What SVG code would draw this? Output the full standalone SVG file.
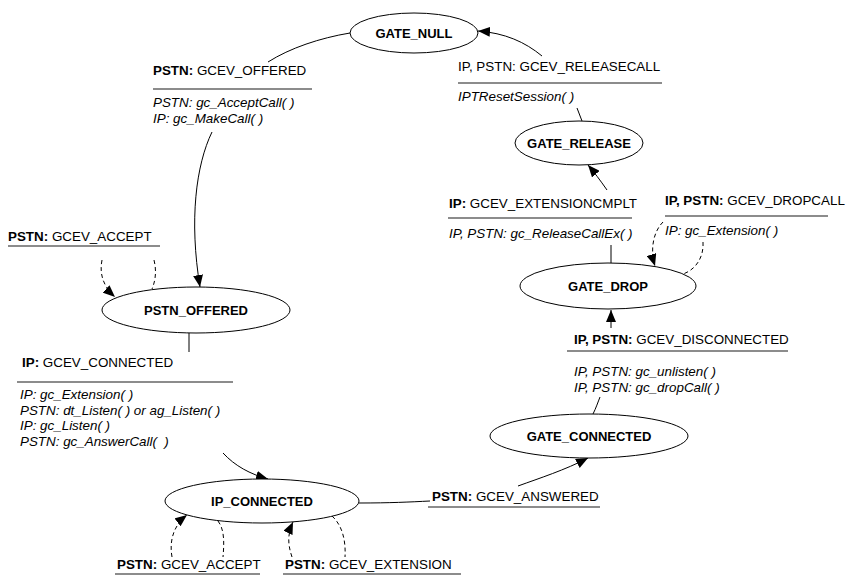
<svg xmlns="http://www.w3.org/2000/svg" width="846" height="576" viewBox="0 0 846 576">
<defs>
<marker id="ah" viewBox="0 0 12 10" refX="12" refY="5" markerWidth="12" markerHeight="10" markerUnits="userSpaceOnUse" orient="auto">
<path d="M0,0 L12,5 L0,10 Z" fill="#000"/>
</marker>
<style>
.node ellipse{fill:#fff;stroke:#000;stroke-width:1}
.node text{font-family:"Liberation Sans",Arial,sans-serif;font-size:13px;font-weight:bold;text-anchor:middle;fill:#000}
.lbl text{font-family:"Liberation Sans",Arial,sans-serif;font-size:13.4px;fill:#000}
.lbl text.i{font-style:italic}
.b{font-weight:bold}
.ul{stroke:#666;stroke-width:1.5}
.c{fill:none;stroke:#000;stroke-width:1}
.d{fill:none;stroke:#000;stroke-width:1;stroke-dasharray:4,3}
.arr{marker-end:url(#ah)}
</style>
</defs>
<rect width="846" height="576" fill="#fff"/>

<g id="connectors">
<path class="c" d="M350,33 C320,38 290,48 268,62"/>
<path class="c arr" d="M212,132 C196,165 189,220 200,287"/>
<path class="d arr" d="M102,260 C99,275 104,287 115,297"/>
<path class="d" d="M154,260 C157,272 155,282 152,289"/>
<path class="c" d="M189,333 L189,352"/>
<path class="c arr" d="M223,453 C235,466 250,474 268,479"/>
<path class="d arr" d="M172,557 C169,540 174,525 187,515"/>
<path class="d" d="M218,521 C225,530 224,545 223,557"/>
<path class="d arr" d="M292,557 C288,545 287,535 293,522"/>
<path class="d" d="M332,516 C342,525 346,540 345,557"/>
<path class="c" d="M359,503 C390,503 410,502 430,501"/>
<path class="c arr" d="M518,486 C540,478 565,470 588,458"/>
<path class="c" d="M593,414 C596,408 598,402 600,397"/>
<path class="c arr" d="M611,328 L611,310"/>
<path class="c" d="M611,263 L611,245"/>
<path class="d arr" d="M663,222 C653,232 650,250 655,266"/>
<path class="d" d="M703,242 C704,258 695,270 683,274"/>
<path class="c arr" d="M607,190 C600,180 594,172 588,165"/>
<path class="c" d="M582,121 L577,108"/>
<path class="c arr" d="M542,56 C525,42 505,33 478,31"/>
</g>

<g id="GATE_NULL" class="node"><ellipse cx="414" cy="33" rx="64" ry="20"/><text x="414" y="38">GATE_NULL</text></g>
<g id="PSTN_OFFERED" class="node"><ellipse cx="196" cy="310" rx="94" ry="23"/><text x="196" y="315">PSTN_OFFERED</text></g>
<g id="IP_CONNECTED" class="node"><ellipse cx="262" cy="501" rx="97" ry="22"/><text x="262" y="506">IP_CONNECTED</text></g>
<g id="GATE_CONNECTED" class="node"><ellipse cx="589" cy="436" rx="99" ry="22"/><text x="589" y="441">GATE_CONNECTED</text></g>
<g id="GATE_DROP" class="node"><ellipse cx="608" cy="286" rx="88" ry="23"/><text x="608" y="291">GATE_DROP</text></g>
<g id="GATE_RELEASE" class="node"><ellipse cx="579" cy="143" rx="64" ry="22"/><text x="579" y="148">GATE_RELEASE</text></g>

<g id="lbl-offered" class="lbl">
<text x="153" y="75"><tspan class="b">PSTN:</tspan> GCEV_OFFERED</text>
<line class="ul" x1="153" y1="89" x2="312" y2="89"/>
<text class="i" x="153" y="107">PSTN: gc_AcceptCall( )</text>
<text class="i" x="153" y="123">IP: gc_MakeCall( )</text>
</g>
<g id="lbl-accept1" class="lbl">
<text x="8" y="241"><tspan class="b">PSTN:</tspan> GCEV_ACCEPT</text>
<line class="ul" x1="8" y1="246" x2="160" y2="246"/>
</g>
<g id="lbl-connected" class="lbl">
<text x="22" y="367"><tspan class="b">IP:</tspan> GCEV_CONNECTED</text>
<line class="ul" x1="17" y1="382" x2="233" y2="382"/>
<text class="i" x="20" y="399">IP: gc_Extension( )</text>
<text class="i" x="20" y="414.5">PSTN: dt_Listen( ) or ag_Listen( )</text>
<text class="i" x="20" y="430">IP: gc_Listen( )</text>
<text class="i" x="20" y="445.5">PSTN: gc_AnswerCall( &#160;)</text>
</g>
<g id="lbl-accept2" class="lbl">
<text x="117" y="569"><tspan class="b">PSTN:</tspan> GCEV_ACCEPT</text>
<line class="ul" x1="115" y1="574" x2="260" y2="574"/>
</g>
<g id="lbl-extension" class="lbl">
<text x="285" y="569"><tspan class="b">PSTN:</tspan> GCEV_EXTENSION</text>
<line class="ul" x1="283" y1="574" x2="461" y2="574"/>
</g>
<g id="lbl-answered" class="lbl">
<text x="432" y="501"><tspan class="b">PSTN:</tspan> GCEV_ANSWERED</text>
<line class="ul" x1="428" y1="507" x2="600" y2="507"/>
</g>
<g id="lbl-disconnected" class="lbl">
<text x="574" y="344"><tspan class="b">IP, PSTN:</tspan> GCEV_DISCONNECTED</text>
<line class="ul" x1="567" y1="351" x2="788" y2="351"/>
<text class="i" x="574" y="376">IP, PSTN: gc_unlisten( )</text>
<text class="i" x="574" y="392">IP, PSTN: gc_dropCall( )</text>
</g>
<g id="lbl-extcmplt" class="lbl">
<text x="449" y="208"><tspan class="b">IP:</tspan> GCEV_EXTENSIONCMPLT</text>
<line class="ul" x1="448" y1="218" x2="632" y2="218"/>
<text class="i" x="449" y="238">IP, PSTN: gc_ReleaseCallEx( )</text>
</g>
<g id="lbl-dropcall" class="lbl">
<text x="665" y="205"><tspan class="b">IP, PSTN:</tspan> GCEV_DROPCALL</text>
<line class="ul" x1="665" y1="216" x2="828" y2="216"/>
<text class="i" x="665" y="235">IP: gc_Extension( )</text>
</g>
<g id="lbl-releasecall" class="lbl">
<text x="458" y="71">IP, PSTN: GCEV_RELEASECALL</text>
<line class="ul" x1="458" y1="83" x2="662" y2="83"/>
<text class="i" x="458" y="101">IPTResetSession( )</text>
</g>
</svg>
